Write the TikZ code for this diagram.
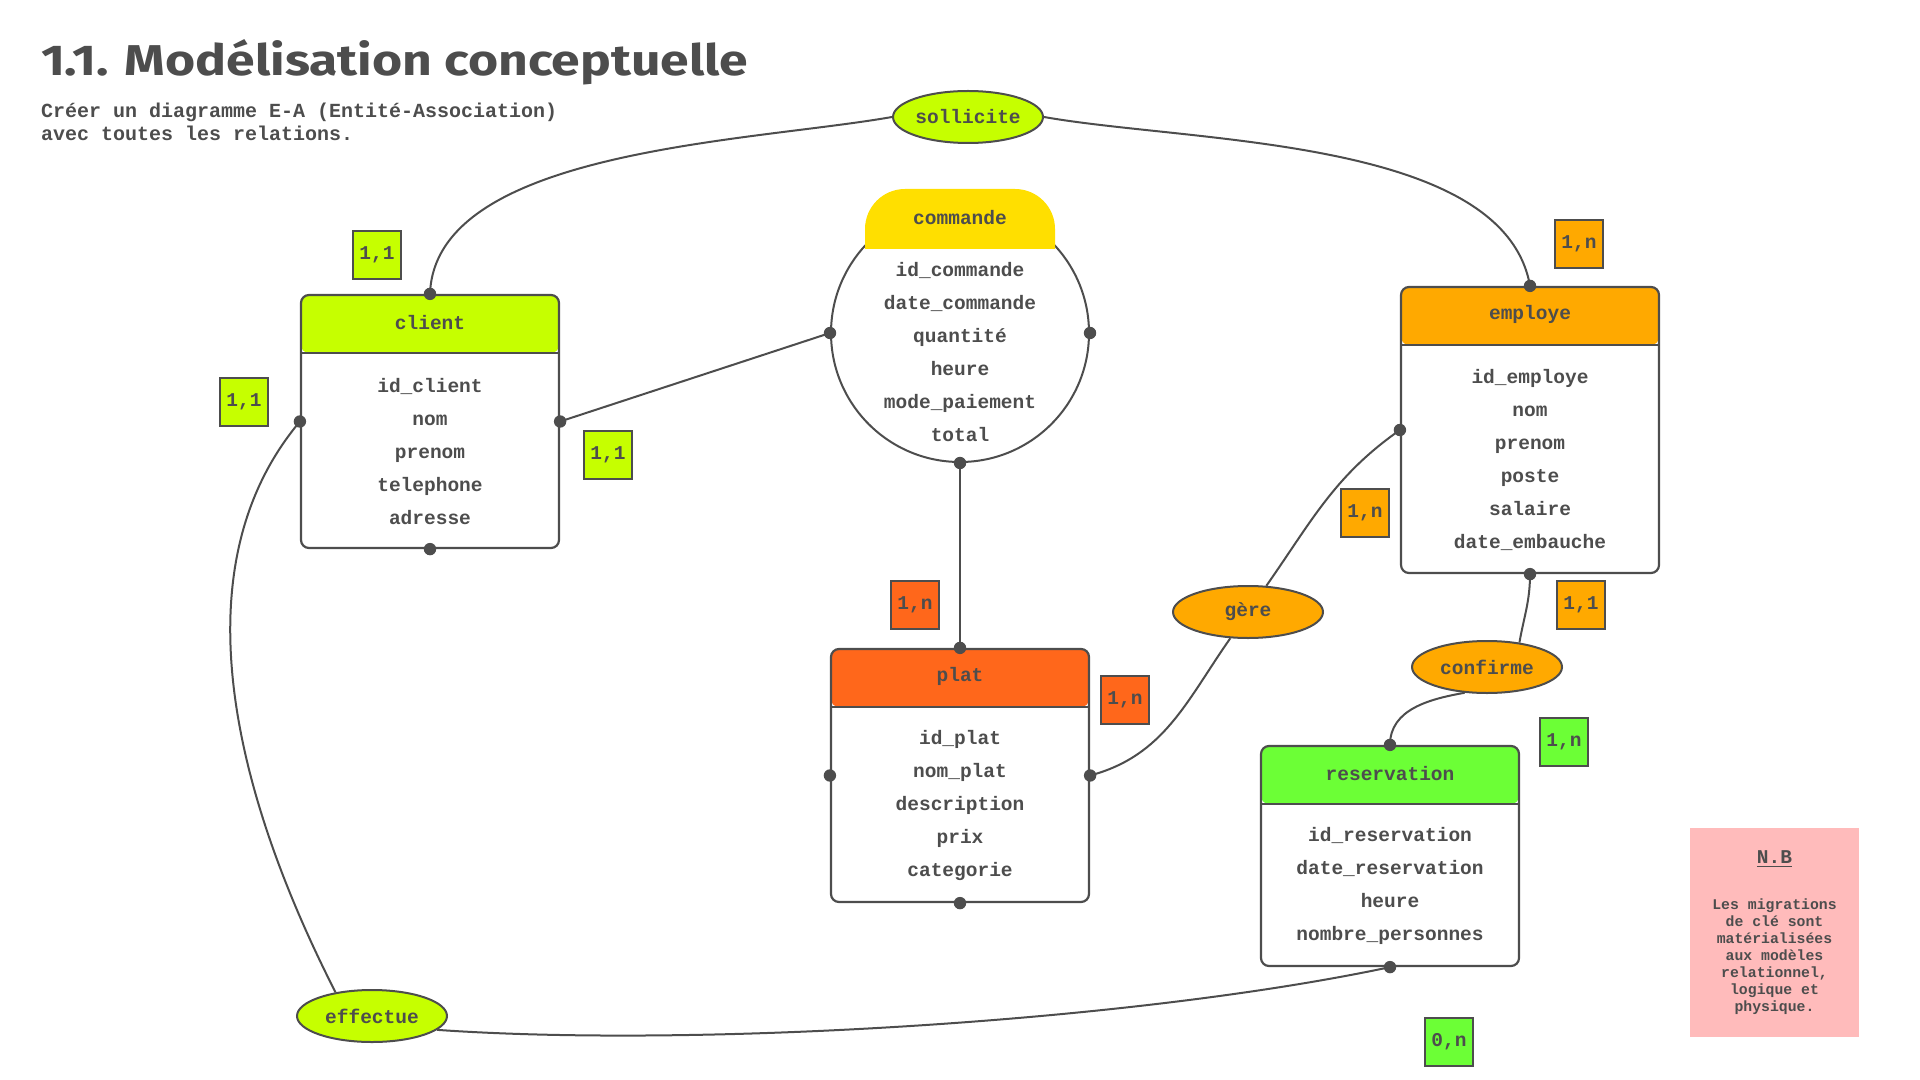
\documentclass[tikz,border=0pt]{standalone}
\usepackage{fontspec}
\usepackage{graphicx}
\setmonofont{Liberation Mono}
\newfontfamily\titrefont{Fira Sans}
\usetikzlibrary{shapes.geometric,calc}

\definecolor{encre}{HTML}{4D4D4D}
\definecolor{citron}{HTML}{C6FF00}
\definecolor{jaune}{HTML}{FFDF00}
\definecolor{orangeclair}{HTML}{FFA900}
\definecolor{brique}{HTML}{FF671B}
\definecolor{pomme}{HTML}{6CFF36}
\definecolor{rose}{HTML}{FFBBBB}

\tikzset{
  ent/.style={draw=encre, line width=1.1pt, rounded corners=4pt, fill=white,
    minimum width=129pt, inner sep=0pt},
  tete/.style={path picture={
    \fill[#1] (path picture bounding box.north west) rectangle ([yshift=-29pt]path picture bounding box.north east);
    \draw[encre, line width=1.1pt] ([yshift=-29pt]path picture bounding box.north west) -- ([yshift=-29pt]path picture bounding box.north east);}},
  attr/.style={align=center, inner sep=0pt},
  rel/.style={ellipse, draw=encre, line width=1pt, minimum width=75pt, minimum height=26pt, inner sep=0pt},
  card/.style={draw=encre, line width=1pt, minimum size=24pt, inner sep=0pt}
}

\begin{document}
\begin{tikzpicture}[x=0.5pt,y=-0.5pt,line width=1pt,color=encre,
  font=\ttfamily\bfseries\fontsize{9.75}{16.5}\selectfont]

  \useasboundingbox (0,0) rectangle (1920,1080);

  % titre
  \path (40,76) node[anchor=base west, inner sep=0pt] (titre)
    {\resizebox{353.5pt}{18pt}{\titrefont\bfseries 1.1. Modélisation conceptuelle}};
  \path (40,121.5) node[anchor=west, inner sep=0pt, align=left,
    font=\ttfamily\bfseries\fontsize{10}{11.5}\selectfont] (soustitre)
    {Créer un diagramme E-A (Entité-Association)\\avec toutes les relations.};

  % entites
  \path (430,421.5) node[ent, tete=citron, minimum height=126.5pt] (client) {};
  \path ($(client.north)+(0,29)$) node (t-client) {client};
  \path ($(client.south)+(0,-97.5)$) node[attr] (a-client)
    {id\_client\\nom\\prenom\\telephone\\adresse};

  \path (1530,430) node[ent, tete=orangeclair, minimum height=143pt] (employe) {};
  \path ($(employe.north)+(0,29)$) node (t-employe) {employe};
  \path ($(employe.south)+(0,-114)$) node[attr] (a-employe)
    {id\_employe\\nom\\prenom\\poste\\salaire\\date\_embauche};

  \path (960,775.5) node[ent, tete=brique, minimum height=126.5pt] (plat) {};
  \path ($(plat.north)+(0,29)$) node (t-plat) {plat};
  \path ($(plat.south)+(0,-97.5)$) node[attr] (a-plat)
    {id\_plat\\nom\_plat\\description\\prix\\categorie};

  \path (1390,856) node[ent, tete=pomme, minimum height=110pt] (reservation) {};
  \path ($(reservation.north)+(0,29)$) node (t-reservation) {reservation};
  \path ($(reservation.south)+(0,-81)$) node[attr] (a-reservation)
    {id\_reservation\\date\_reservation\\heure\\nombre\_personnes};

  % commande
  \path (960,333) node[draw, line width=1pt, circle, minimum size=129pt, inner sep=0pt] (commande) {};
  \fill[jaune, rounded corners=20pt] (865,249) |- (1055,189) -- (1055,249);
  \path (960,218) node (t-commande) {commande};
  \path (960,352.5) node[attr] (a-commande)
    {id\_commande\\date\_commande\\quantité\\heure\\mode\_paiement\\total};

  % associations
  \path (968,117) node[rel, fill=citron] (sollicite) {sollicite};
  \path (1248,612) node[rel, fill=orangeclair] (gere) {gère};
  \path (1487,667) node[rel, fill=orangeclair] (confirme) {confirme};
  \path (372,1016) node[rel, fill=citron] (effectue) {effectue};

  \draw (client.north) to[out=88,in=190,looseness=0.75] (sollicite.west);
  \draw (sollicite.east) to[out=-10,in=100,looseness=0.75] (employe.north);
  \draw (commande.west) -- (client.east);
  \draw (commande.south) -- (plat.north);
  \draw (plat.east) to[out=15,in=235] (gere.236);
  \draw (gere.55) to[out=55,in=215] (employe.west);
  \draw (employe.south) to[out=-90,in=80] (confirme.37);
  \draw (confirme.229) to[out=190,in=90] (reservation.north);
  \draw (client.west) to[out=230,in=117,looseness=0.9] (effectue.147);
  \draw (effectue.-12.5) to[out=-4,in=192,looseness=0.7] (reservation.south);

  \fill (client.north) circle (3.1pt) (client.west) circle (3.1pt)
        (client.east) circle (3.1pt) (client.south) circle (3.1pt)
        (commande.west) circle (3.1pt) (commande.east) circle (3.1pt)
        (commande.south) circle (3.1pt)
        (employe.north) circle (3.1pt) (employe.west) circle (3.1pt)
        (employe.south) circle (3.1pt)
        (plat.north) circle (3.1pt) (plat.west) circle (3.1pt)
        (plat.east) circle (3.1pt) (plat.south) circle (3.1pt)
        (reservation.north) circle (3.1pt) (reservation.south) circle (3.1pt);

  % cardinalites
  \path (377,255) node[card, fill=citron] (c-sol-cli) {1,1};
  \path (244,402) node[card, fill=citron] (c-eff-cli) {1,1};
  \path (608,455) node[card, fill=citron] (c-com-cli) {1,1};
  \path (1579,244) node[card, fill=orangeclair] (c-sol-emp) {1,n};
  \path (1365,513) node[card, fill=orangeclair] (c-ger-emp) {1,n};
  \path (1581,605) node[card, fill=orangeclair] (c-con-emp) {1,1};
  \path (915,605) node[card, fill=brique] (c-com-pla) {1,n};
  \path (1125,700) node[card, fill=brique] (c-ger-pla) {1,n};
  \path (1564,742) node[card, fill=pomme] (c-con-res) {1,n};
  \path (1449,1042) node[card, fill=pomme] (c-eff-res) {0,n};

  % note
  \path (1774.5,932.5) node[fill=rose, minimum width=84.5pt, minimum height=104.5pt, inner sep=0pt] (nb) {};
  \path (1774.5,859) node (nb-titre) {\underline{N.B}};
  \path (1774.5,956.5) node[attr, font=\ttfamily\bfseries\fontsize{7.4}{8.5}\selectfont] (nb-texte)
    {Les migrations\\de clé sont\\matérialisées\\aux modèles\\relationnel,\\logique et\\physique.};

\end{tikzpicture}
\end{document}
